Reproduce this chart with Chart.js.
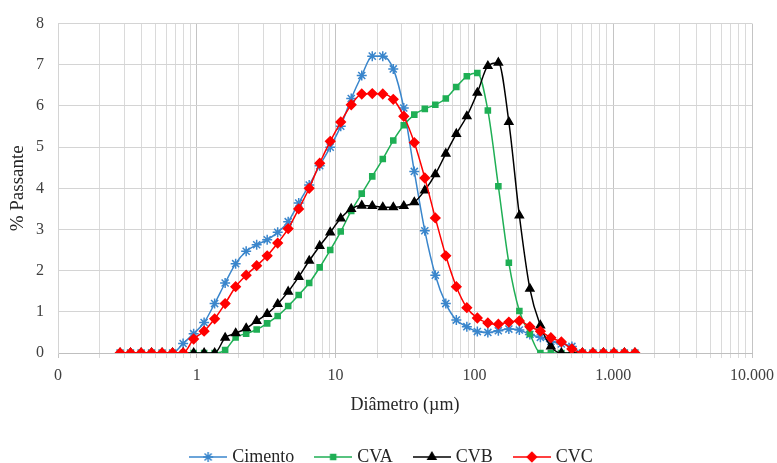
<!DOCTYPE html>
<html>
<head>
<meta charset="utf-8">
<script src="https://cdn.jsdelivr.net/npm/chart.js@4.4.1/dist/chart.umd.min.js"></script>
<style>
  html, body { margin: 0; padding: 0; background: #fff; overflow: hidden; }
  #wrap { width: 777px; height: 463px; }
</style>
</head>
<body>
<div id="wrap"><canvas id="myChart"></canvas></div>
<script>
// diameters (µm) of the measurement classes
const diametro = [
  0.280, 0.333, 0.397, 0.472, 0.562, 0.669, 0.797, 0.949, 1.129, 1.344,
  1.600, 1.905, 2.268, 2.700, 3.214, 3.826, 4.554, 5.422, 6.454, 7.683,
  9.147, 10.89, 12.96, 15.43, 18.37, 21.87, 26.03, 30.99, 36.89, 43.92,
  52.28, 62.24, 74.09, 88.20, 105.0, 125.0, 148.8, 177.1, 210.8, 251.0,
  298.8, 355.6, 423.4, 504.0, 599.8, 714.1, 850.1, 1012, 1204, 1434
];

const cimento = [
  0, 0, 0, 0, 0, 0, 0.23, 0.47, 0.74, 1.20,
  1.70, 2.17, 2.47, 2.63, 2.75, 2.93, 3.19, 3.64, 4.08, 4.55,
  5.00, 5.51, 6.18, 6.74, 7.21, 7.21, 6.90, 5.95, 4.41, 2.97,
  1.89, 1.20, 0.80, 0.64, 0.52, 0.50, 0.54, 0.58, 0.56, 0.45,
  0.38, 0.28, 0.22, 0.16, 0, 0, 0, 0, 0, 0
];

const cva = [
  0, 0, 0, 0, 0, 0, 0, 0, 0, 0,
  0.07, 0.38, 0.47, 0.57, 0.72, 0.90, 1.14, 1.41, 1.70, 2.08,
  2.50, 2.95, 3.45, 3.87, 4.29, 4.71, 5.16, 5.53, 5.79, 5.93,
  6.03, 6.18, 6.46, 6.72, 6.80, 5.89, 4.05, 2.19, 1.02, 0.46,
  0, 0, 0, 0, 0, 0, 0, 0, 0, 0
];

const cvb = [
  0, 0, 0, 0, 0, 0, 0, 0, 0, 0,
  0.37, 0.48, 0.60, 0.78, 0.95, 1.19, 1.49, 1.85, 2.24, 2.60,
  2.93, 3.27, 3.50, 3.58, 3.57, 3.54, 3.54, 3.57, 3.66, 3.95,
  4.34, 4.84, 5.32, 5.75, 6.32, 6.97, 7.05, 5.61, 3.34, 1.56,
  0.67, 0.16, 0, 0, 0, 0, 0, 0, 0, 0
];

const cvc = [
  0, 0, 0, 0, 0, 0, 0, 0.34, 0.53, 0.83,
  1.20, 1.61, 1.89, 2.12, 2.36, 2.67, 3.02, 3.50, 4.00, 4.61,
  5.14, 5.61, 6.03, 6.29, 6.30, 6.29, 6.16, 5.75, 5.11, 4.25,
  3.28, 2.36, 1.61, 1.10, 0.85, 0.73, 0.70, 0.75, 0.78, 0.64,
  0.53, 0.37, 0.27, 0.10, 0, 0, 0, 0, 0, 0
];

const seriesNames = ["Cimento", "CVA", "CVB", "CVC"];
const xTickValues = [0.1, 1, 10, 100, 1000, 10000];
const xTickLabels = ["0", "1", "10", "100", "1.000", "10.000"];
const yMin = 0;
const yMax = 8;

const serif = "'Liberation Serif', 'Times New Roman', serif";

const styles = [
  { color: "#3A86CC", point: "star", radius: 5, fill: "rgba(0,0,0,0)" },
  { color: "#1FAF55", point: "rect", radius: 3.6, fill: "#1FAF55" },
  { color: "#000000", point: "triangle", radius: 4.6, fill: "#000000" },
  { color: "#FF0000", point: "rectRot", radius: 4.6, fill: "#FF0000" },
];

const allSeries = [cimento, cva, cvb, cvc];

// small line + marker pictures for the legend
const makeIcon = (s) => {
  const c = document.createElement("canvas");
  c.width = 38;
  c.height = 14;
  const g = c.getContext("2d");
  g.strokeStyle = s.color;
  g.lineWidth = 1.5;
  g.beginPath();
  g.moveTo(0, 7);
  g.lineTo(38, 7);
  g.stroke();
  g.fillStyle = s.fill;
  Chart.helpers.drawPoint(g, { pointStyle: s.point, radius: s.radius, borderWidth: 1.5, rotation: 0 }, 19, 7);
  return c;
};
const icons = styles.map(makeIcon);

// grid lines at 1..9 of every decade
const gridValues = [];
for (let i = 0; i < xTickValues.length - 1; i++) {
  for (let m = 1; m <= 9; m++) gridValues.push(m * xTickValues[i]);
}
gridValues.push(xTickValues[xTickValues.length - 1]);

const isDecade = (v) => xTickValues.some((d) => Math.abs(d - v) / d < 1e-9);

// legend sits a little right of the canvas centre in the original
const legendShift = {
  id: "legendShift",
  afterLayout: (chart) => {
    chart.legend.left += 17;
    chart.legend.right += 17;
  },
};

const myChart = document.getElementById("myChart").getContext("2d");

new Chart(myChart, {
  type: "line",
  data: {
    datasets: allSeries.map((vals, i) => ({
      label: seriesNames[i],
      data: vals.map((v, j) => ({ x: diametro[j], y: v })),
      borderColor: styles[i].color,
      backgroundColor: styles[i].fill,
      pointStyle: styles[i].point,
      pointRadius: styles[i].radius,
      pointBorderWidth: 1.5,
      pointBackgroundColor: styles[i].fill,
      pointBorderColor: styles[i].color,
      borderWidth: 1.5,
      cubicInterpolationMode: "monotone",
      fill: false,
      order: allSeries.length - i,
    })),
  },
  plugins: [legendShift],
  options: {
    responsive: true,
    maintainAspectRatio: false,
    animation: false,
    layout: { padding: { left: 0, right: 25, top: 15, bottom: -13 } },
    plugins: {
      tooltip: { enabled: false },
      legend: {
        position: "bottom",
        labels: {
          usePointStyle: true,
          pointStyleWidth: 30,
          padding: 24,
          color: "#262626",
          font: { family: serif, size: 18 },
          generateLabels: () =>
            seriesNames.map((name, i) => ({
              text: name,
              pointStyle: icons[i],
              fillStyle: styles[i].fill,
              strokeStyle: styles[i].color,
              lineWidth: 0,
              hidden: false,
              datasetIndex: i,
              fontColor: "#262626",
            })),
        },
      },
    },
    scales: {
      x: {
        type: "logarithmic",
        min: xTickValues[0],
        max: xTickValues[xTickValues.length - 1],
        afterBuildTicks: (scale) => {
          scale.ticks = gridValues.map((v) => ({ value: v, major: isDecade(v) }));
        },
        afterFit: (scale) => {
          scale.height = 71;
          scale.paddingRight = 0;
        },
        ticks: {
          autoSkip: false,
          maxRotation: 0,
          padding: 8,
          color: "#404040",
          font: { family: serif, size: 16 },
          callback: (value) => {
            const k = xTickValues.findIndex((d) => Math.abs(d - value) / d < 1e-9);
            return k >= 0 ? xTickLabels[k] : "";
          },
        },
        grid: {
          color: (c) => (c.tick && c.tick.major ? "#c4c4c4" : "#dadada"),
          tickLength: 5,
        },
        border: { color: "#bfbfbf" },
        title: {
          display: true,
          text: "Diâmetro (µm)",
          color: "#262626",
          font: { family: serif, size: 18 },
          padding: { top: 0, bottom: 8 },
        },
      },
      y: {
        min: yMin,
        max: yMax,
        afterFit: (scale) => {
          scale.width = 58;
        },
        ticks: {
          stepSize: 1,
          padding: 14,
          color: "#404040",
          font: { family: serif, size: 16 },
        },
        grid: { color: "#d4d4d4", drawTicks: false },
        border: { color: "#d4d4d4" },
        title: {
          display: true,
          text: "% Passante",
          color: "#262626",
          font: { family: serif, size: 19 },
          padding: { top: 7, bottom: 0 },
        },
      },
    },
  },
});
</script>
</body>
</html>
